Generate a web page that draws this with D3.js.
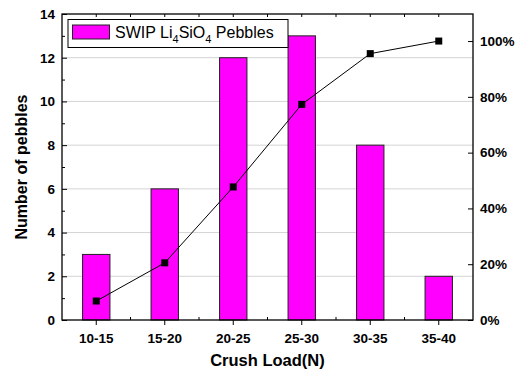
<!DOCTYPE html>
<html>
<head>
<meta charset="utf-8">
<script src="https://cdn.jsdelivr.net/npm/d3@7"></script>
<style>
  body { margin: 0; background: #fff; }
  svg { font-family: "Liberation Sans", Arial, sans-serif; }
</style>
</head>
<body>
<script>
// chart values
const categories = ["10-15", "15-20", "20-25", "25-30", "30-35", "35-40"];
const counts = [3, 6, 12, 13, 8, 2];
const cumulative = [0.068, 0.205, 0.477, 0.773, 0.955, 1.0];
const leftTicks = [0, 2, 4, 6, 8, 10, 12, 14];
const rightTicks = [0, 0.2, 0.4, 0.6, 0.8, 1.0];

const W = 515, H = 373;
const m = { left: 62, right: 42, top: 14, bottom: 53 };
const pw = W - m.left - m.right, ph = H - m.top - m.bottom;

const svg = d3.select("body").append("svg")
    .attr("width", W)
    .attr("height", H);

const g = svg.append("g").attr("transform", `translate(${m.left},${m.top})`);

const x = d3.scaleBand().domain(categories).range([0, pw]).padding(0);
const y = d3.scaleLinear().domain([0, 14]).range([ph, 0]);
const y2 = d3.scaleLinear().domain([0, 1.097]).range([ph, 0]);

// grid lines
g.selectAll(".grid")
    .data(leftTicks.filter(d => d > 0 && d < 14))
    .enter().append("line")
    .attr("x1", 0).attr("x2", pw)
    .attr("y1", d => y(d)).attr("y2", d => y(d))
    .attr("stroke", "#d4d4d4")
    .attr("stroke-width", 1);

// bars
const barW = x.step() * 0.4;
g.selectAll(".bar")
    .data(counts)
    .enter().append("rect")
    .attr("x", (d, i) => x(categories[i]) + x.bandwidth() / 2 - barW / 2)
    .attr("y", d => y(d))
    .attr("width", barW)
    .attr("height", d => ph - y(d))
    .attr("fill", "#ff00ff")
    .attr("stroke", "#222")
    .attr("stroke-width", 1);

// cumulative line
const line = d3.line()
    .x((d, i) => x(categories[i]) + x.bandwidth() / 2)
    .y(d => y2(d));

g.append("path")
    .datum(cumulative)
    .attr("d", line)
    .attr("fill", "none")
    .attr("stroke", "#000")
    .attr("stroke-width", 1);

g.selectAll(".pt")
    .data(cumulative)
    .enter().append("rect")
    .attr("x", (d, i) => x(categories[i]) + x.bandwidth() / 2 - 3.5)
    .attr("y", d => y2(d) - 3.5)
    .attr("width", 7)
    .attr("height", 7)
    .attr("fill", "#000");

// axes
function styleAxis(sel) {
    sel.select(".domain").remove();
    sel.selectAll("line").attr("stroke", "#000");
    sel.selectAll("text")
        .attr("font-size", 13.5)
        .attr("font-weight", "bold")
        .attr("fill", "#000");
}

// left
g.append("g")
    .call(d3.axisLeft(y).tickValues(leftTicks).tickSize(-5).tickPadding(7))
    .call(styleAxis);
g.append("g")
    .call(d3.axisLeft(y).tickValues(d3.range(1, 14, 2)).tickSize(-3).tickFormat(""))
    .call(styleAxis);

// right
g.append("g")
    .attr("transform", `translate(${pw},0)`)
    .call(d3.axisRight(y2).tickValues(rightTicks).tickSize(-5).tickPadding(7)
        .tickFormat(d => Math.round(d * 100) + "%"))
    .call(styleAxis);

// bottom
const xb = g.append("g")
    .attr("transform", `translate(0,${ph})`)
    .call(d3.axisBottom(x).tickSize(5).tickPadding(4))
    .call(styleAxis);
xb.selectAll("text").attr("dy", "1em");

const mids = d3.range(1, categories.length).map(i => i * x.step());
g.selectAll(".minorb")
    .data(mids)
    .enter().append("line")
    .attr("x1", d => d).attr("x2", d => d)
    .attr("y1", ph).attr("y2", ph - 3)
    .attr("stroke", "#000");

// top ticks
const topTicks = categories.map(c => x(c) + x.bandwidth() / 2).concat(mids);
g.selectAll(".tt")
    .data(topTicks)
    .enter().append("line")
    .attr("x1", d => d).attr("x2", d => d)
    .attr("y1", 0).attr("y2", d => 3)
    .attr("stroke", "#000");

// frame
g.append("rect")
    .attr("width", pw).attr("height", ph)
    .attr("fill", "none")
    .attr("stroke", "#000")
    .attr("stroke-width", 1.3);

// legend
const lg = svg.append("g");
lg.append("rect")
    .attr("x", 68).attr("y", 19.5)
    .attr("width", 220).attr("height", 28)
    .attr("fill", "#fff").attr("stroke", "#000");
lg.append("rect")
    .attr("x", 72.5).attr("y", 25)
    .attr("width", 37).attr("height", 14)
    .attr("fill", "#ff00ff").attr("stroke", "#222");
const lt = lg.append("text")
    .attr("x", 115).attr("y", 37.5)
    .attr("font-size", 16)
    .attr("fill", "#000");
lt.append("tspan").text("SWIP Li");
lt.append("tspan").text("4").attr("font-size", 11).attr("dy", 5);
lt.append("tspan").text("SiO").attr("dy", -5);
lt.append("tspan").text("4").attr("font-size", 11).attr("dy", 5);
lt.append("tspan").text(" Pebbles").attr("dy", -5);

// axis titles
svg.append("text")
    .attr("transform", `translate(27,${m.top + ph / 2}) rotate(-90)`)
    .attr("text-anchor", "middle")
    .attr("font-size", 16)
    .attr("font-weight", "bold")
    .text("Number of pebbles");

svg.append("text")
    .attr("x", m.left + pw / 2)
    .attr("y", 366)
    .attr("text-anchor", "middle")
    .attr("font-size", 16.5)
    .attr("font-weight", "bold")
    .text("Crush Load(N)");
</script>
</body>
</html>
